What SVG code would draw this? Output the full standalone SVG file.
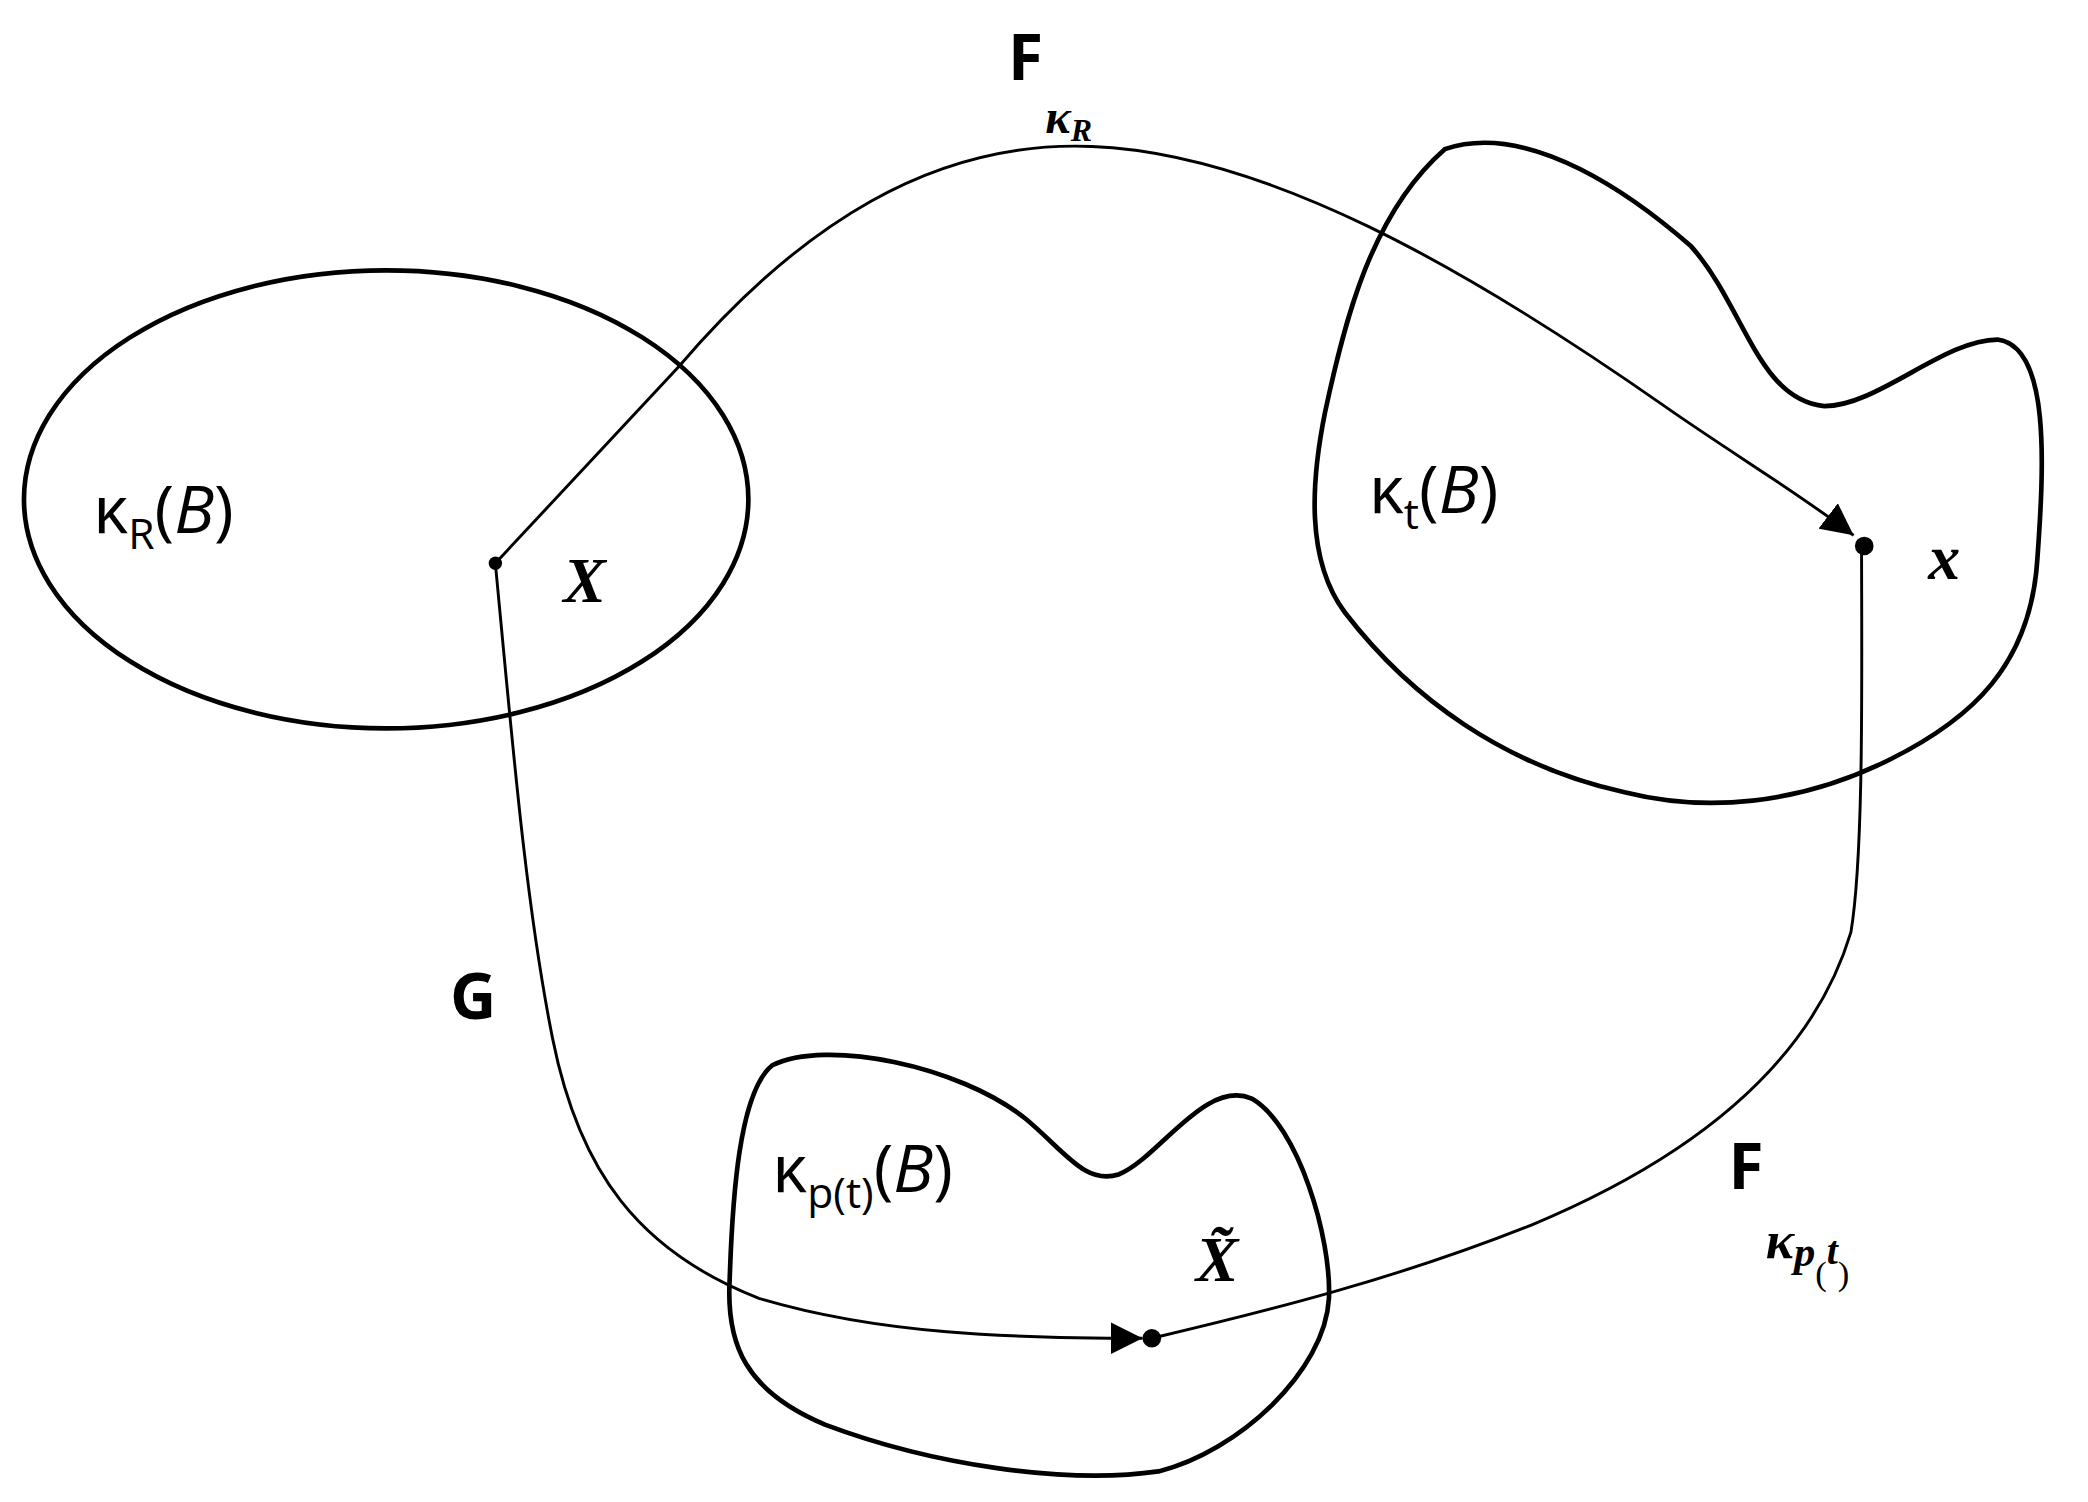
<svg xmlns="http://www.w3.org/2000/svg" width="2088" height="1502" viewBox="0 0 2088 1502">
<style>
.reg{fill:none;stroke:#000;stroke-width:3.5}
.con{fill:none;stroke:#000;stroke-width:2.2}
.lab{font-family:"Open Sans","DejaVu Sans",sans-serif;font-size:50px;fill:#000}
.math{font-family:"Liberation Serif",serif;font-style:italic;font-weight:bold;fill:#000}
.bold{font-family:"Open Sans","DejaVu Sans",sans-serif;font-weight:bold;font-size:48px;fill:#000}
</style>
<defs>
<marker id="ah" viewBox="0 0 10 10" refX="10" refY="5" markerWidth="24" markerHeight="24" markerUnits="userSpaceOnUse" orient="auto"><path d="M0,0 L10,5 L0,10 Z" fill="#000"/></marker>
</defs>
<rect width="2088" height="1502" fill="#fff"/>
<g transform="scale(1.3316)">
<g id="kR"><ellipse class="reg" cx="290" cy="375" rx="272" ry="172"/>
<text class="lab" x="70" y="400">κ<tspan font-size="32" dy="12">R</tspan><tspan dy="-12">(</tspan><tspan font-style="italic">B</tspan>)</text></g>
<g id="kt"><path class="reg" d="M1085,112 C1150,90 1230,150 1270,185 C1310,230 1320,300 1370,305 C1410,305 1460,255 1500,255 C1540,260 1535,350 1530,420 C1525,500 1480,540 1420,570 C1350,605 1280,610 1220,595 C1130,575 1060,525 1010,460 C980,420 985,360 995,310 C1010,240 1030,160 1085,112 Z"/>
<text class="lab" x="1028" y="385">κ<tspan font-size="32" dy="12">t</tspan><tspan dy="-12">(</tspan><tspan font-style="italic">B</tspan>)</text></g>
<g id="kp"><path class="reg" d="M580,800 C620,780 720,800 770,840 C800,865 815,890 840,882 C870,870 905,810 940,825 C975,845 1000,930 998,975 C995,1030 930,1090 870,1105 C800,1115 700,1100 620,1070 C560,1045 545,1010 548,960 C550,900 555,820 580,800 Z"/>
<text class="lab" x="580" y="895">κ<tspan font-size="32" dy="12">p(t)</tspan><tspan dy="-12">(</tspan><tspan font-style="italic">B</tspan>)</text></g>
<g id="connectors">
<path class="con" d="M372,423 L510,275 C600,170 700,105 820,110 C950,115 1100,200 1250,305 C1300,340 1350,370 1392,402" marker-end="url(#ah)"/>
<path class="con" d="M372,423 C385,560 395,680 415,780 C435,880 480,940 570,975 C660,1002 760,1005 858,1005" marker-end="url(#ah)"/>
<path class="con" d="M865,1005 C950,985 1050,960 1150,920 C1270,870 1360,800 1390,700 C1400,640 1398,500 1398,410"/>
</g>
<g id="points">
<circle cx="372" cy="423" r="5" fill="#000"/>
<circle cx="1400" cy="410" r="7" fill="#000"/>
<circle cx="865" cy="1005" r="7" fill="#000"/>
</g>
<g id="labels">
<text class="math" x="423" y="452" font-size="48">X</text>
<text class="math" x="1448" y="435" font-size="48">x</text>
<text class="math" x="898" y="962" font-size="48">X̃</text>
<text class="bold" x="338" y="765">G</text>
<text class="bold" x="757" y="60">F</text>
<text class="math" x="785" y="100" font-size="36">κ<tspan font-size="24" dy="6">R</tspan></text>
<text class="bold" x="1298" y="893">F</text>
<text class="math" x="1326" y="945" font-size="40">κ<tspan font-size="32" dy="6">p</tspan><tspan font-size="26" font-style="normal" font-weight="normal" dy="14">(</tspan><tspan font-size="30" dy="-16">t</tspan><tspan font-size="26" font-style="normal" font-weight="normal" dy="16">)</tspan></text>
</g>
</g>
</svg>
